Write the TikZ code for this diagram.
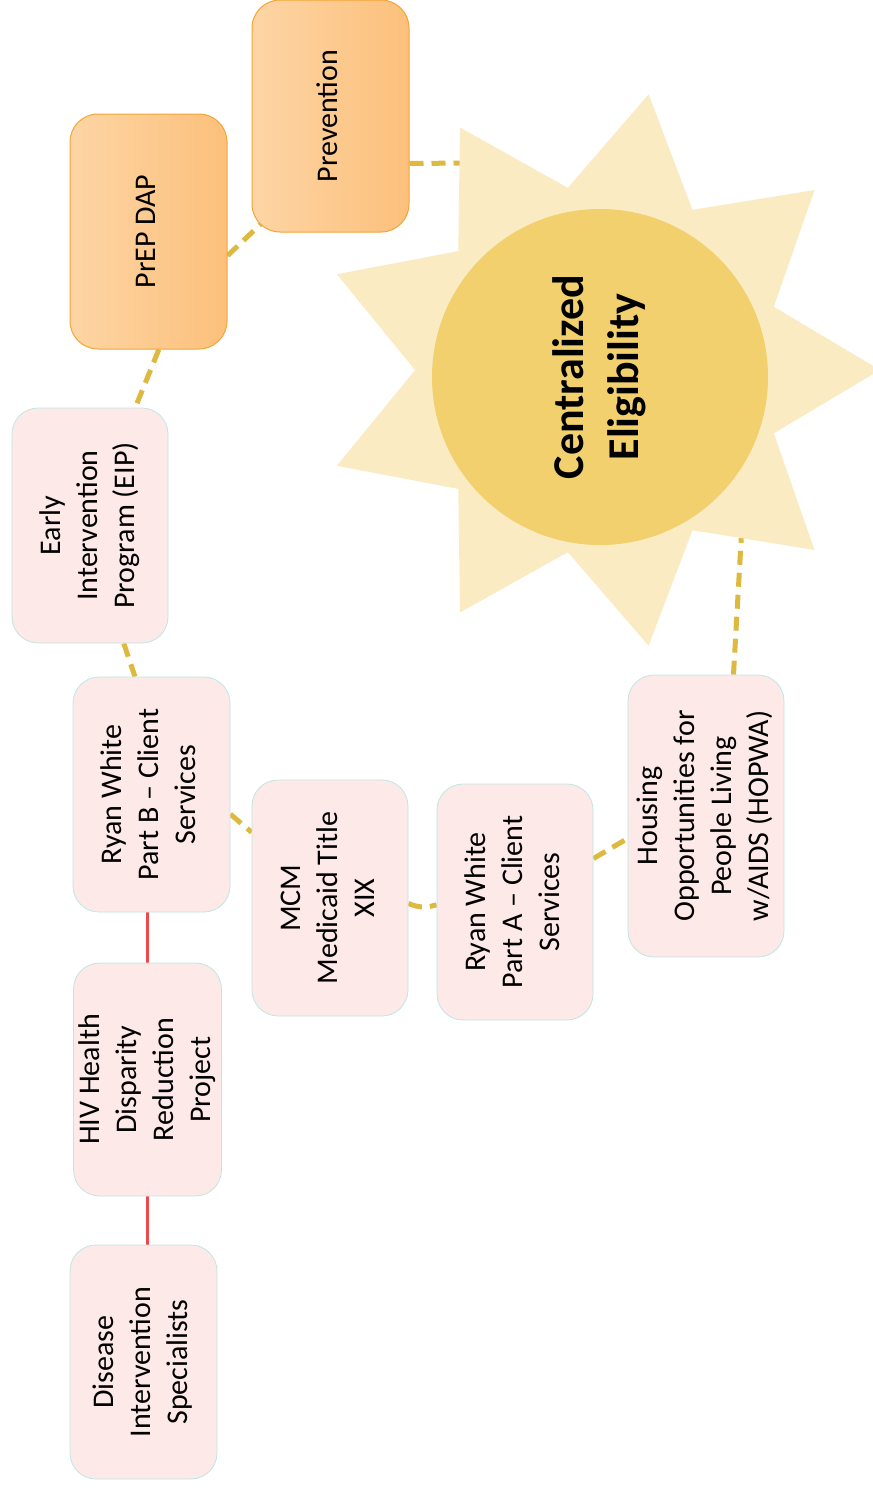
\documentclass[tikz,border=0pt]{standalone}
\usepackage{fontspec}
\setmainfont{Carlito}
\usepackage{graphicx}
\definecolor{boxpink}{HTML}{FDE9E8}
\definecolor{boxedge}{HTML}{BFE6E4}
\definecolor{orangeL}{HTML}{FDD5A5}
\definecolor{orangeR}{HTML}{FCC07B}
\definecolor{orangeedge}{HTML}{F3A536}
\definecolor{sunray}{HTML}{FAEBC3}
\definecolor{sungold}{HTML}{F1D06D}
\definecolor{linkgold}{HTML}{DEB940}
\definecolor{tiered}{HTML}{EE4A4C}
\newcommand{\vtext}[1]{\rotatebox{90}{\begin{tabular}{@{}c@{}}#1\end{tabular}}}
\pgfdeclarelayer{bg}
\pgfsetlayers{bg,main}
\begin{document}
\begin{tikzpicture}[x=1pt, y=1pt,
    every node/.style={font=\fontsize{30}{37}\selectfont, inner sep=0pt},
    pinkbox/.style={draw=boxedge, fill=boxpink, line width=0.8pt, rounded corners=26pt, minimum width=156pt, minimum height=235pt},
    orangebox/.style={draw=orangeedge, left color=orangeL, right color=orangeR, line width=1pt, rounded corners=28pt, minimum width=157pt, minimum height=235pt},
    link/.style={draw=linkgold, line width=5pt, dash pattern=on 14pt off 8pt},
    redlink/.style={color=tiered, line width=2.2pt}]
    \useasboundingbox (0,0) rectangle (873,-1492);

    % 1. 太阳 (星形 + 圆)
    \fill[sunray, shift={(600,-370)}] (80:280)
        \foreach \k in {0,...,8} { -- ({100+40*\k}:185) -- ({120+40*\k}:280) } -- cycle;
    \node[circle, fill=sungold, minimum size=336pt, font=\bfseries\fontsize{44}{55}\selectfont] (sun) at (600,-377) {\vtext{Centralized\\Eligibility}};
    \coordinate (sunnw) at (470,-163);
    \coordinate (sunse) at (742,-525);

    % 2. 方框
    \node[orangebox, minimum height=232pt] (prev) at (330.5,-116) {\vtext{Prevention}};
    \node[orangebox] (prep) at (148.5,-231.5) {\vtext{PrEP DAP}};
    \node[pinkbox] (eip) at (90,-525.5) {\vtext{Early\\Intervention\\Program (EIP)}};
    \node[pinkbox, minimum width=157pt] (rwb) at (151.5,-794.5) {\vtext{Ryan White\\Part B \textendash{} Client\\Services}};
    \node[pinkbox, minimum height=236pt] (mcm) at (330,-898) {\vtext{MCM\\Medicaid Title\\XIX}};
    \node[pinkbox, minimum height=236pt] (rwa) at (515,-902) {\vtext{Ryan White\\Part A \textendash{} Client\\Services}};
    \node[pinkbox, minimum height=282pt] (hopwa) at (706,-816) {\vtext{Housing\\Opportunities for\\People Living\\w/AIDS (HOPWA)}};
    \node[pinkbox, minimum width=147pt, minimum height=233pt] (hiv) at (147.5,-1079.5) {\vtext{HIV Health\\Disparity\\Reduction\\Project}};
    \node[pinkbox, minimum width=147pt, minimum height=234pt] (dis) at (143.5,-1362) {\vtext{Disease\\Intervention\\Specialists}};

    % 3. 连线 (底层)
    \begin{pgfonlayer}{bg}
    \draw[link] (prev.-31) -- (sunnw);
    \draw[link] (prep.-17) -- ([shift={(13pt,12pt)}]prev.south west);
    \draw[link] (prep.-85) -- (eip.69);
    \draw[link] (eip.-74) -- (rwb.98);
    \draw[link] (rwb.-14) -- (mcm.140);
    \draw[link] (mcm.-4) to[bend right=20] (rwa.182);
    \draw[link] (rwa.29) -- (hopwa.196);
    \draw[link] (hopwa.79) -- (sunse);
    \draw[redlink] (rwb.south -| hiv.north) -- (hiv.north);
    \draw[redlink] (hiv.south) -- (hiv.south |- dis.north);
    \end{pgfonlayer}
\end{tikzpicture}
\end{document}
